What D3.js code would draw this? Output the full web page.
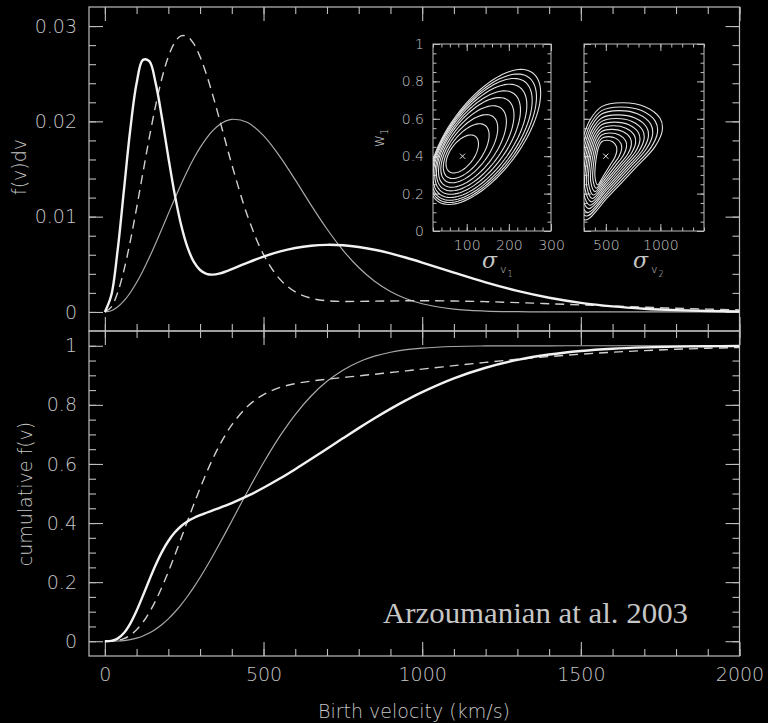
<!DOCTYPE html>
<html>
<head>
<meta charset="utf-8">
<script src="https://cdn.jsdelivr.net/npm/d3@7"></script>
<style>
  html, body { margin: 0; padding: 0; background: #000; }
  svg { display: block; }
  text { font-family: "DejaVu Sans", sans-serif; font-weight: 200; fill: #c6c6c6; }
</style>
</head>
<body>
<svg id="chart" width="768" height="723"></svg>
<script>
// ---- Birth-velocity distributions (sampled in km/s) ----
const velocity = [0,20,40,60,80,100,120,140,160,180,200,220,240,260,280,300,320,340,360,380,400,
  450,500,550,600,650,700,750,800,850,900,950,1000,1100,1200,1300,1400,1500,1600,1700,1800,1900,2000];

// f(v)dv, dv = 10 km/s
const pdfTwoComponent = [0,0.001723,0.006407,0.012757,0.019117,0.023991,0.026453,0.026311,0.024013,0.020359,0.016238,
  0.012363,0.009170,0.006821,0.005281,0.004402,0.004001,0.003916,0.004020,0.004228,0.004486,
  0.005175,0.005807,0.006326,0.006711,0.006951,0.007043,0.006994,0.006815,0.006523,0.006139,0.005685,0.005183,
  0.004121,0.003096,0.002204,0.001489,0.000957,0.000586,0.000342,0.000190,0.000101,0.000051];
const pdfCordesChernoff = [0,0.000510,0.002001,0.004358,0.007402,0.010907,0.014620,0.018286,0.021661,0.024545,0.026780,
  0.028269,0.028972,0.028909,0.028145,0.026777,0.024935,0.022755,0.020368,0.017907,0.015474,
  0.010041,0.006033,0.003498,0.002103,0.001440,0.001178,0.001106,0.001109,0.001133,0.001154,0.001170,0.001174,
  0.001146,0.001079,0.000981,0.000864,0.000738,0.000612,0.000493,0.000387,0.000296,0.000220];
const pdfSingleMaxwellian = [0,0.000131,0.000518,0.001153,0.002016,0.003083,0.004325,0.005707,0.007193,0.008743,0.010316,
  0.011875,0.013380,0.014796,0.016094,0.017244,0.018224,0.019021,0.019622,0.020021,0.020217,
  0.019876,0.018502,0.016383,0.013853,0.011211,0.008705,0.006494,0.004661,0.003222,0.002147,0.001380,0.000856,
  0.000297,0.000090,0.000024,0.000006,0,0,0,0,0,0];

// cumulative f(v)
const cdfTwoComponent = [0,0.00116,0.008888,0.027908,0.059917,0.103357,0.15426,0.207434,0.258047,0.302578,0.339197,
  0.367711,0.389101,0.404942,0.416929,0.426518,0.434846,0.44274,0.45065,0.45888,0.467582,
  0.491758,0.519244,0.549634,0.582292,0.616504,0.65155,0.686698,0.72127,0.754648,0.786352,0.815932,0.843124,
  0.889666,0.925666,0.95203,0.97033,0.982426,0.990016,0.994564,0.997162,0.998584,0.999322];
const cdfCordesChernoff = [0,0.00034,0.002696,0.008923,0.020586,0.038838,0.064353,0.097276,0.137273,0.183595,0.235025,
  0.290202,0.347608,0.405601,0.462759,0.517623,0.569566,0.617277,0.660431,0.698694,0.732085,
  0.79536,0.834901,0.858166,0.871787,0.880411,0.886852,0.892528,0.898036,0.903655,0.90936,0.915178,0.921043,
  0.932685,0.943812,0.954153,0.963396,0.971404,0.97815,0.983665,0.988052,0.991449,0.994014];
const cdfSingleMaxwellian = [0,0.000087,0.000694,0.002325,0.005458,0.010524,0.017905,0.027915,0.0408,0.056726,0.07578,
  0.09799,0.12326,0.15144,0.18234,0.2157,0.25121,0.28848,0.32714,0.36683,0.40713,
  0.50783,0.60411,0.69158,0.76728,0.82996,0.87962,0.91748,0.9452,0.96474,0.97803,0.98673,0.99224,
  0.99758,0.99933,0.99984,0.99997,1,1,1,1,1,1];

// ---- Axis ticks ----
const xMajorTicks = [0, 500, 1000, 1500, 2000];
const xTickLabels = ["0", "500", "1000", "1500", "2000"];
const pdfMajorTicks = [0, 0.01, 0.02, 0.03];
const pdfTickLabels = ["0", "0.01", "0.02", "0.03"];
const cdfMajorTicks = [0, 0.2, 0.4, 0.6, 0.8, 1];
const cdfTickLabels = ["0", "0.2", "0.4", "0.6", "0.8", "1"];

// ---- Likelihood contours in (sigma_v1, w1) : centre, half-axis vectors ----
const bestFitSigma1 = [90, 0.4];
const sigma1Contours = [
  [89.4, 0.412, 31.2, 0.094, 22.6, -0.0386],
  [98.8, 0.427, 45.3, 0.137, 30.1, -0.0515],
  [106.1, 0.440, 56.7, 0.171, 36.7, -0.0628],
  [113.6, 0.452, 68.0, 0.205, 43.2, -0.0740],
  [120.2, 0.464, 77.9, 0.235, 48.9, -0.0837],
  [125.9, 0.473, 86.4, 0.261, 53.6, -0.0917],
  [131.3, 0.482, 94.9, 0.286, 58.3, -0.0998],
  [136.0, 0.490, 102.0, 0.308, 62.0, -0.1062],
  [139.8, 0.496, 107.7, 0.325, 64.9, -0.1111],
  [143.5, 0.503, 113.3, 0.342, 67.7, -0.1159]
];
const sigma1XTicks = [100, 200, 300];
const sigma1XLabels = ["100", "200", "300"];
const w1Ticks = [0, 0.2, 0.4, 0.6, 0.8, 1];
const w1Labels = ["0", "0.2", "0.4", "0.6", "0.8", "1"];

// ---- Likelihood contours in (sigma_v2, w1) : outer outline, anchor, level scales ----
const bestFitSigma2 = [500, 0.4];
const sigma2Outline = [[309,0.059],[523,0.184],[768,0.335],[951,0.451],[1018,0.540],[997,0.603],
  [859,0.665],[646,0.686],[462,0.665],[355,0.594],[294,0.504],[233,0.344],[217,0.166]];
const sigma2Anchor = [462, 0.362];
const sigma2Levels = [[0.25,0.38],[0.33,0.44],[0.41,0.50],[0.49,0.56],[0.56,0.62],[0.63,0.68],
  [0.70,0.74],[0.77,0.80],[0.84,0.87],[0.92,0.93],[1,1]];
const sigma2XTicks = [500, 1000];
const sigma2XLabels = ["500", "1000"];

// ---------------------------------------------------------------
const svg = d3.select("#chart");
svg.append("rect").attr("width", 768).attr("height", 723).attr("fill", "#000");

const frameColor = "#bdbdbd";
const x = d3.scaleLinear().domain([-50, 2000]).range([89, 739.5]);
const yPdf = d3.scaleLinear().domain([-0.002, 0.032]).range([331, 7]);
const yCdf = d3.scaleLinear().domain([-0.05, 1.05]).range([656, 331]);

const defs = svg.append("defs");
function clipRect(id, x0, y0, x1, y1) {
  defs.append("clipPath").attr("id", id).append("rect")
    .attr("x", x0).attr("y", y0).attr("width", x1 - x0).attr("height", y1 - y0);
}
clipRect("clipTop", x.range()[0], yPdf.range()[1], x.range()[1], yPdf.range()[0]);
clipRect("clipBottom", x.range()[0], yCdf.range()[1], x.range()[1], yCdf.range()[0]);

function styleAxis(g) {
  g.select(".domain").remove();
  g.selectAll(".tick line").attr("stroke", frameColor).attr("stroke-width", 1.1);
  g.selectAll(".tick text").style("font-size", "19px").attr("fill", "#c6c6c6");
}

function panelAxes(y, yMajor, yLabels, yMinor, showXLabels) {
  const [x0, x1] = x.range();
  const [yb, yt] = y.range();
  const minorX = d3.range(0, 2001, 100);
  // bottom edge
  svg.append("g").attr("transform", `translate(0,${yb})`)
    .call(d3.axisBottom(x).tickValues(minorX).tickSize(-7).tickFormat("")).call(styleAxis);
  svg.append("g").attr("transform", `translate(0,${yb})`)
    .call(d3.axisBottom(x).tickValues(xMajorTicks).tickSize(-14).tickPadding(12)
      .tickFormat((d, i) => showXLabels ? xTickLabels[i] : "")).call(styleAxis);
  // top edge
  svg.append("g").attr("transform", `translate(0,${yt})`)
    .call(d3.axisTop(x).tickValues(minorX).tickSize(-7).tickFormat("")).call(styleAxis);
  svg.append("g").attr("transform", `translate(0,${yt})`)
    .call(d3.axisTop(x).tickValues(xMajorTicks).tickSize(-14).tickFormat("")).call(styleAxis);
  // left edge
  svg.append("g").attr("transform", `translate(${x0},0)`)
    .call(d3.axisLeft(y).tickValues(yMinor).tickSize(-7).tickFormat("")).call(styleAxis);
  svg.append("g").attr("transform", `translate(${x0},0)`)
    .call(d3.axisLeft(y).tickValues(yMajor).tickSize(-14).tickPadding(12)
      .tickFormat((d, i) => yLabels[i])).call(styleAxis);
  // right edge
  svg.append("g").attr("transform", `translate(${x1},0)`)
    .call(d3.axisRight(y).tickValues(yMinor).tickSize(-7).tickFormat("")).call(styleAxis);
  svg.append("g").attr("transform", `translate(${x1},0)`)
    .call(d3.axisRight(y).tickValues(yMajor).tickSize(-14).tickFormat("")).call(styleAxis);
  // frame
  svg.append("rect").attr("x", x0).attr("y", yt).attr("width", x1 - x0).attr("height", yb - yt)
    .attr("fill", "none").attr("stroke", frameColor).attr("stroke-width", 1.2);
}

panelAxes(yPdf, pdfMajorTicks, pdfTickLabels, d3.range(0, 0.0305, 0.002), false);
panelAxes(yCdf, cdfMajorTicks, cdfTickLabels, d3.range(0, 1.001, 0.05), true);

// ---- Curves ----
const seriesStyle = [
  { pdf: pdfSingleMaxwellian, cdf: cdfSingleMaxwellian, color: "#a9a9a9", width: 1.2, dash: null },
  { pdf: pdfCordesChernoff, cdf: cdfCordesChernoff, color: "#d0d0d0", width: 1.4, dash: "9,6" },
  { pdf: pdfTwoComponent, cdf: cdfTwoComponent, color: "#f2f2f2", width: 2.4, dash: null }
];

function drawCurves(key, y, clipId) {
  const g = svg.append("g").attr("clip-path", `url(#${clipId})`);
  const line = d3.line().x((d, i) => x(velocity[i])).y(d => y(d))
    .curve(d3.curveCatmullRom.alpha(0.5));
  seriesStyle.forEach(s => {
    g.append("path").datum(s[key]).attr("d", line)
      .attr("fill", "none").attr("stroke", s.color).attr("stroke-width", s.width)
      .attr("stroke-linejoin", "round").attr("stroke-dasharray", s.dash);
  });
}
drawCurves("pdf", yPdf, "clipTop");
drawCurves("cdf", yCdf, "clipBottom");

// ---- Axis titles ----
svg.append("text").attr("transform", "translate(20,167) rotate(-90)")
  .attr("text-anchor", "middle").attr("dominant-baseline", "middle")
  .style("font-size", "19px").text("f(v)dv");
svg.append("text").attr("transform", "translate(26,494) rotate(-90)")
  .attr("text-anchor", "middle").attr("dominant-baseline", "middle")
  .style("font-size", "19px").text("cumulative f(v)");
svg.append("text").attr("x", 414).attr("y", 718)
  .attr("text-anchor", "middle").style("font-size", "19px").text("Birth velocity (km/s)");

// ---- Insets ----
const yW = d3.scaleLinear().domain([0, 1]).range([231, 44]);
const xS1 = d3.scaleLinear().domain([20, 300]).range([433, 551]);
const xS2 = d3.scaleLinear().domain([300, 1400]).range([584, 704]);

function insetFrame(xs, id, xMinorStep, xMajor, xLabels, showY) {
  const [x0, x1] = xs.range();
  const [yb, yt] = yW.range();
  clipRect(id, x0, yt, x1, yb);
  const style = g => {
    g.select(".domain").remove();
    g.selectAll(".tick line").attr("stroke", frameColor).attr("stroke-width", 1);
    g.selectAll(".tick text").style("font-size", "14px").attr("fill", "#c6c6c6");
  };
  const minorX = d3.range(Math.ceil(xs.domain()[0] / xMinorStep) * xMinorStep, xs.domain()[1] + 1, xMinorStep);
  const minorY = d3.range(0, 1.001, 0.05);
  svg.append("g").attr("transform", `translate(0,${yb})`)
    .call(d3.axisBottom(xs).tickValues(minorX).tickSize(-3.5).tickFormat("")).call(style);
  svg.append("g").attr("transform", `translate(0,${yb})`)
    .call(d3.axisBottom(xs).tickValues(xMajor).tickSize(-7).tickPadding(9)
      .tickFormat((d, i) => xLabels[i])).call(style);
  svg.append("g").attr("transform", `translate(0,${yt})`)
    .call(d3.axisTop(xs).tickValues(minorX).tickSize(-3.5).tickFormat("")).call(style);
  svg.append("g").attr("transform", `translate(0,${yt})`)
    .call(d3.axisTop(xs).tickValues(xMajor).tickSize(-7).tickFormat("")).call(style);
  svg.append("g").attr("transform", `translate(${x0},0)`)
    .call(d3.axisLeft(yW).tickValues(minorY).tickSize(-3.5).tickFormat("")).call(style);
  svg.append("g").attr("transform", `translate(${x0},0)`)
    .call(d3.axisLeft(yW).tickValues(w1Ticks).tickSize(-7).tickPadding(9)
      .tickFormat((d, i) => showY ? w1Labels[i] : "")).call(style);
  svg.append("g").attr("transform", `translate(${x1},0)`)
    .call(d3.axisRight(yW).tickValues(minorY).tickSize(-3.5).tickFormat("")).call(style);
  svg.append("g").attr("transform", `translate(${x1},0)`)
    .call(d3.axisRight(yW).tickValues(w1Ticks).tickSize(-7).tickFormat("")).call(style);
  svg.append("rect").attr("x", x0).attr("y", yt).attr("width", x1 - x0).attr("height", yb - yt)
    .attr("fill", "none").attr("stroke", frameColor).attr("stroke-width", 1);
}

insetFrame(xS1, "clipInset1", 20, sigma1XTicks, sigma1XLabels, true);
insetFrame(xS2, "clipInset2", 100, sigma2XTicks, sigma2XLabels, false);

const contourColor = "#e2e2e2";
// inset 1: elliptical contours
const g1 = svg.append("g").attr("clip-path", "url(#clipInset1)");
const ellipseLine = d3.line().curve(d3.curveLinearClosed);
sigma1Contours.forEach(([cs, cw, as, aw, bs, bw]) => {
  const pts = d3.range(0, 96).map(i => {
    const t = i / 96 * 2 * Math.PI;
    return [xS1(cs + as * Math.cos(t) + bs * Math.sin(t)), yW(cw + aw * Math.cos(t) + bw * Math.sin(t))];
  });
  g1.append("path").attr("d", ellipseLine(pts))
    .attr("fill", "none").attr("stroke", contourColor).attr("stroke-width", 1.1);
});

// inset 2: nested pear-shaped contours
const g2 = svg.append("g").attr("clip-path", "url(#clipInset2)");
const pearLine = d3.line().x(d => xS2(d[0])).y(d => yW(d[1]))
  .curve(d3.curveCatmullRomClosed.alpha(0.5));
sigma2Levels.forEach(([sx, sy]) => {
  const pts = sigma2Outline.map(p => [
    sigma2Anchor[0] + sx * (p[0] - sigma2Anchor[0]),
    sigma2Anchor[1] + sy * (p[1] - sigma2Anchor[1])
  ]);
  g2.append("path").attr("d", pearLine(pts))
    .attr("fill", "none").attr("stroke", contourColor).attr("stroke-width", 1.1);
});

// best-fit markers
function crossMarker(px, py) {
  const r = 2.6;
  svg.append("path")
    .attr("d", `M${px - r},${py - r}L${px + r},${py + r}M${px - r},${py + r}L${px + r},${py - r}`)
    .attr("stroke", contourColor).attr("stroke-width", 1);
}
crossMarker(xS1(bestFitSigma1[0]), yW(bestFitSigma1[1]));
crossMarker(xS2(bestFitSigma2[0]), yW(bestFitSigma2[1]));

// inset axis titles
const w1Label = svg.append("text").attr("transform", "translate(384,138) rotate(-90)")
  .attr("text-anchor", "middle").style("font-size", "15px");
w1Label.append("tspan").text("w");
w1Label.append("tspan").attr("dy", 4).style("font-size", "10px").text("1");

function sigmaLabel(cx, sub) {
  const t = svg.append("text").attr("x", cx).attr("y", 268).attr("text-anchor", "start");
  t.append("tspan").style("font-family", "'DejaVu Serif', serif").style("font-style", "italic")
    .style("font-weight", "200").style("font-size", "22px").text("\u03c3");
  t.append("tspan").attr("dx", 3).attr("dy", 5).style("font-size", "11px").text("v");
  t.append("tspan").attr("dx", 1).attr("dy", 4).style("font-size", "8px").text(sub);
}
sigmaLabel(482, "1");
sigmaLabel(633, "2");

// ---- Annotation ----
svg.append("text").attr("x", 383).attr("y", 623)
  .attr("textLength", 305).attr("lengthAdjust", "spacingAndGlyphs")
  .style("font-family", "'Liberation Serif', 'Times New Roman', serif")
  .style("font-weight", "400").style("font-size", "29px").attr("fill", "#ffffff")
  .text("Arzoumanian at al. 2003");
</script>
</body>
</html>
